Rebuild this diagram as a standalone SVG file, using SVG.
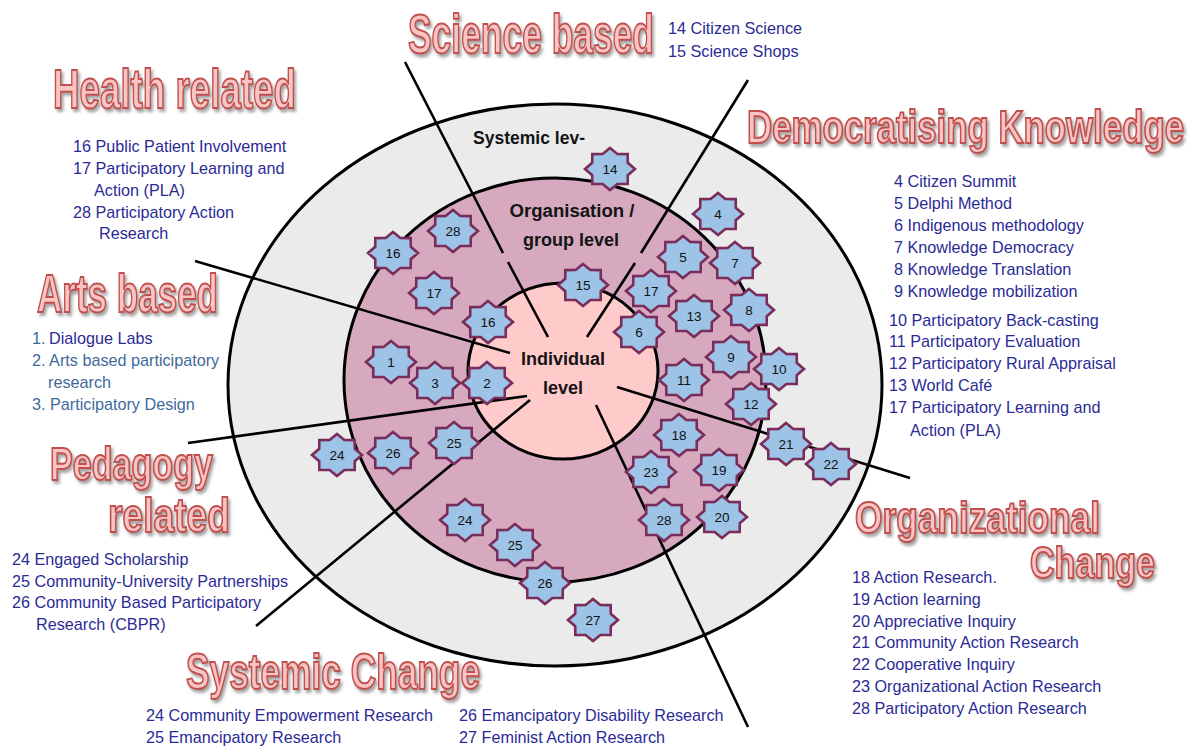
<svg xmlns="http://www.w3.org/2000/svg" xmlns:xlink="http://www.w3.org/1999/xlink" width="1197" height="747" viewBox="0 0 1197 747">
<style>
.lt{font-family:"Liberation Sans",Arial,sans-serif;font-size:16.2px;fill:#2b2b96}
.sb{fill:#3f6a9c}
.hd{font-family:"Liberation Sans",Arial,sans-serif;font-weight:bold;fill:#f9c4c4;stroke:#c0504d;stroke-width:2;filter:url(#sh)}
.lv{font-family:"Liberation Sans",Arial,sans-serif;font-weight:bold;font-size:18px;fill:#141414;text-anchor:middle}
.st{fill:#9dc3e6;stroke:#7a2d5a;stroke-width:2.6;stroke-linejoin:miter}
.sn{font-family:"Liberation Sans",Arial,sans-serif;font-size:13.5px;fill:#111;text-anchor:middle}
.ln{stroke:#000;stroke-width:2.6;fill:none}
</style>
<defs>
<filter id="sh" x="-5%" y="-20%" width="110%" height="150%">
<feDropShadow dx="2" dy="3" stdDeviation="1.5" flood-color="#7f7f7f" flood-opacity="0.7"/>
</filter>
<path id="star" d="M0,-21 L7.37,-14.94 L17.68,-14.85 L17.78,-6.19 L25,0 L17.78,6.19 L17.68,14.85 L7.37,14.94 L0,21 L-7.37,14.94 L-17.68,14.85 L-17.78,6.19 L-25,0 L-17.78,-6.19 L-17.68,-14.85 L-7.37,-14.94 Z"/>
</defs>
<rect width="1197" height="747" fill="#fff"/>

<g id="levels">
<ellipse id="systemic-level" cx="555" cy="385" rx="327" ry="281" fill="#ebebeb" stroke="#000" stroke-width="3"/>
<ellipse id="organisation-level" cx="555" cy="380" rx="211" ry="202" fill="#d6a9bf" stroke="#000" stroke-width="3"/>
<ellipse id="individual-level" cx="563" cy="371" rx="95" ry="88" fill="#ffcaca" stroke="#000" stroke-width="3"/>
</g>

<g id="connectors">
<line class="ln" x1="405" y1="62" x2="503" y2="253"/>
<line class="ln" x1="508" y1="262" x2="548" y2="337"/>
<line class="ln" x1="748" y1="80" x2="641" y2="253"/>
<line class="ln" x1="635" y1="263" x2="587" y2="337"/>
<line class="ln" x1="195" y1="261" x2="510" y2="353"/>
<line class="ln" x1="188" y1="443" x2="527" y2="396"/>
<line class="ln" x1="530" y1="400" x2="256" y2="626"/>
<line class="ln" x1="596" y1="405" x2="748" y2="727"/>
<line class="ln" x1="617" y1="387" x2="910" y2="478"/>
</g>

<g id="level-labels">
<text class="lv" x="529" y="144" textLength="112" lengthAdjust="spacingAndGlyphs">Systemic lev-</text>
<text class="lv" x="572" y="217" textLength="125" lengthAdjust="spacingAndGlyphs">Organisation /</text>
<text class="lv" x="571" y="246" textLength="96" lengthAdjust="spacingAndGlyphs">group level</text>
<text class="lv" x="563" y="365" font-size="18.5">Individual</text>
<text class="lv" x="563" y="394" font-size="18.5">level</text>
</g>

<g id="stars">
<g id="s14"><use href="#star" class="st" x="610" y="169"/><text class="sn" x="610" y="173.5">14</text></g>
<g id="s28a"><use href="#star" class="st" x="453" y="231"/><text class="sn" x="453" y="235.5">28</text></g>
<g id="s16a"><use href="#star" class="st" x="393" y="253"/><text class="sn" x="393" y="257.5">16</text></g>
<g id="s4"><use href="#star" class="st" x="718" y="214"/><text class="sn" x="718" y="218.5">4</text></g>
<g id="s5"><use href="#star" class="st" x="683" y="257"/><text class="sn" x="683" y="261.5">5</text></g>
<g id="s7"><use href="#star" class="st" x="735" y="263"/><text class="sn" x="735" y="267.5">7</text></g>
<g id="s15"><use href="#star" class="st" x="583" y="285"/><text class="sn" x="583" y="289.5">15</text></g>
<g id="s17a"><use href="#star" class="st" x="434" y="293"/><text class="sn" x="434" y="297.5">17</text></g>
<g id="s17b"><use href="#star" class="st" x="651" y="291"/><text class="sn" x="651" y="295.5">17</text></g>
<g id="s13"><use href="#star" class="st" x="694" y="316"/><text class="sn" x="694" y="320.5">13</text></g>
<g id="s8"><use href="#star" class="st" x="749" y="310"/><text class="sn" x="749" y="314.5">8</text></g>
<g id="s16b"><use href="#star" class="st" x="488" y="322"/><text class="sn" x="488" y="326.5">16</text></g>
<g id="s6"><use href="#star" class="st" x="639" y="332"/><text class="sn" x="639" y="336.5">6</text></g>
<g id="s1"><use href="#star" class="st" x="391" y="362"/><text class="sn" x="391" y="366.5">1</text></g>
<g id="s3"><use href="#star" class="st" x="435" y="383"/><text class="sn" x="435" y="387.5">3</text></g>
<g id="s2"><use href="#star" class="st" x="487" y="383"/><text class="sn" x="487" y="387.5">2</text></g>
<g id="s9"><use href="#star" class="st" x="731" y="357"/><text class="sn" x="731" y="361.5">9</text></g>
<g id="s10"><use href="#star" class="st" x="779" y="369"/><text class="sn" x="779" y="373.5">10</text></g>
<g id="s11"><use href="#star" class="st" x="684" y="380"/><text class="sn" x="684" y="384.5">11</text></g>
<g id="s12"><use href="#star" class="st" x="751" y="404"/><text class="sn" x="751" y="408.5">12</text></g>
<g id="s18"><use href="#star" class="st" x="679" y="435"/><text class="sn" x="679" y="439.5">18</text></g>
<g id="s21"><use href="#star" class="st" x="786" y="444"/><text class="sn" x="786" y="448.5">21</text></g>
<g id="s22"><use href="#star" class="st" x="831" y="464"/><text class="sn" x="831" y="468.5">22</text></g>
<g id="s24a"><use href="#star" class="st" x="337" y="455"/><text class="sn" x="337" y="459.5">24</text></g>
<g id="s26a"><use href="#star" class="st" x="393" y="453"/><text class="sn" x="393" y="457.5">26</text></g>
<g id="s25a"><use href="#star" class="st" x="454" y="443"/><text class="sn" x="454" y="447.5">25</text></g>
<g id="s23"><use href="#star" class="st" x="651" y="472"/><text class="sn" x="651" y="476.5">23</text></g>
<g id="s19"><use href="#star" class="st" x="719" y="470"/><text class="sn" x="719" y="474.5">19</text></g>
<g id="s28b"><use href="#star" class="st" x="664" y="520"/><text class="sn" x="664" y="524.5">28</text></g>
<g id="s20"><use href="#star" class="st" x="722" y="517"/><text class="sn" x="722" y="521.5">20</text></g>
<g id="s24b"><use href="#star" class="st" x="465" y="520"/><text class="sn" x="465" y="524.5">24</text></g>
<g id="s25b"><use href="#star" class="st" x="515" y="545"/><text class="sn" x="515" y="549.5">25</text></g>
<g id="s26b"><use href="#star" class="st" x="545" y="583"/><text class="sn" x="545" y="587.5">26</text></g>
<g id="s27"><use href="#star" class="st" x="593" y="620"/><text class="sn" x="593" y="624.5">27</text></g>
</g>

<g id="health-related">
<text class="hd" x="53" y="108" font-size="56" textLength="243" lengthAdjust="spacingAndGlyphs">Health related</text>
<text class="lt" x="73" y="152">16 Public Patient Involvement</text>
<text class="lt" x="73" y="174">17 Participatory Learning and</text>
<text class="lt" x="94" y="196">Action (PLA)</text>
<text class="lt" x="73" y="218">28 Participatory Action</text>
<text class="lt" x="99" y="239">Research</text>
</g>

<g id="science-based">
<text class="hd" x="408" y="53" font-size="55" textLength="246" lengthAdjust="spacingAndGlyphs">Science based</text>
<text class="lt" x="668" y="34">14 Citizen Science</text>
<text class="lt" x="668" y="57">15 Science Shops</text>
</g>

<g id="democratising-knowledge">
<text class="hd" x="747" y="143" font-size="46" textLength="437" lengthAdjust="spacingAndGlyphs">Democratising Knowledge</text>
<text class="lt" x="894" y="187">4 Citizen Summit</text>
<text class="lt" x="894" y="209">5 Delphi Method</text>
<text class="lt" x="894" y="231">6 Indigenous methodology</text>
<text class="lt" x="894" y="253">7 Knowledge Democracy</text>
<text class="lt" x="894" y="275">8 Knowledge Translation</text>
<text class="lt" x="894" y="297">9 Knowledge mobilization</text>
<text class="lt" x="889" y="326">10 Participatory Back-casting</text>
<text class="lt" x="889" y="347">11 Participatory Evaluation</text>
<text class="lt" x="889" y="369">12 Participatory Rural Appraisal</text>
<text class="lt" x="889" y="391">13 World Café</text>
<text class="lt" x="889" y="413">17 Participatory Learning and</text>
<text class="lt" x="910" y="436">Action (PLA)</text>
</g>

<g id="arts-based">
<text class="hd" x="37" y="312" font-size="54" textLength="181" lengthAdjust="spacingAndGlyphs">Arts based</text>
<text class="lt sb" x="32" y="344">1.</text>
<text class="lt" x="49" y="344">Dialogue Labs</text>
<text class="lt sb" x="32" y="366">2. Arts based participatory</text>
<text class="lt sb" x="48" y="388">research</text>
<text class="lt sb" x="32" y="410">3. Participatory Design</text>
</g>

<g id="pedagogy-related">
<text class="hd" x="50" y="480" font-size="46" textLength="163" lengthAdjust="spacingAndGlyphs">Pedagogy</text>
<text class="hd" x="108" y="532" font-size="48" textLength="122" lengthAdjust="spacingAndGlyphs">related</text>
<text class="lt" x="12" y="565">24 Engaged Scholarship</text>
<text class="lt" x="12" y="587">25 Community-University Partnerships</text>
<text class="lt" x="12" y="608">26 Community Based Participatory</text>
<text class="lt" x="36" y="630">Research (CBPR)</text>
</g>

<g id="organizational-change">
<text class="hd" x="855" y="533" font-size="44" textLength="245" lengthAdjust="spacingAndGlyphs">Organizational</text>
<text class="hd" x="1030" y="578" font-size="44" textLength="125" lengthAdjust="spacingAndGlyphs">Change</text>
<text class="lt" x="852" y="583">18 Action Research.</text>
<text class="lt" x="852" y="605">19 Action learning</text>
<text class="lt" x="852" y="627">20 Appreciative Inquiry</text>
<text class="lt" x="852" y="648">21 Community Action Research</text>
<text class="lt" x="852" y="670">22 Cooperative Inquiry</text>
<text class="lt" x="852" y="692">23 Organizational Action Research</text>
<text class="lt" x="852" y="714">28 Participatory Action Research</text>
</g>

<g id="systemic-change">
<text class="hd" x="186" y="689" font-size="50" textLength="294" lengthAdjust="spacingAndGlyphs">Systemic Change</text>
<text class="lt" x="146" y="721">24 Community Empowerment Research</text>
<text class="lt" x="146" y="743">25 Emancipatory Research</text>
<text class="lt" x="459" y="721">26 Emancipatory Disability Research</text>
<text class="lt" x="459" y="743">27 Feminist Action Research</text>
</g>
</svg>
